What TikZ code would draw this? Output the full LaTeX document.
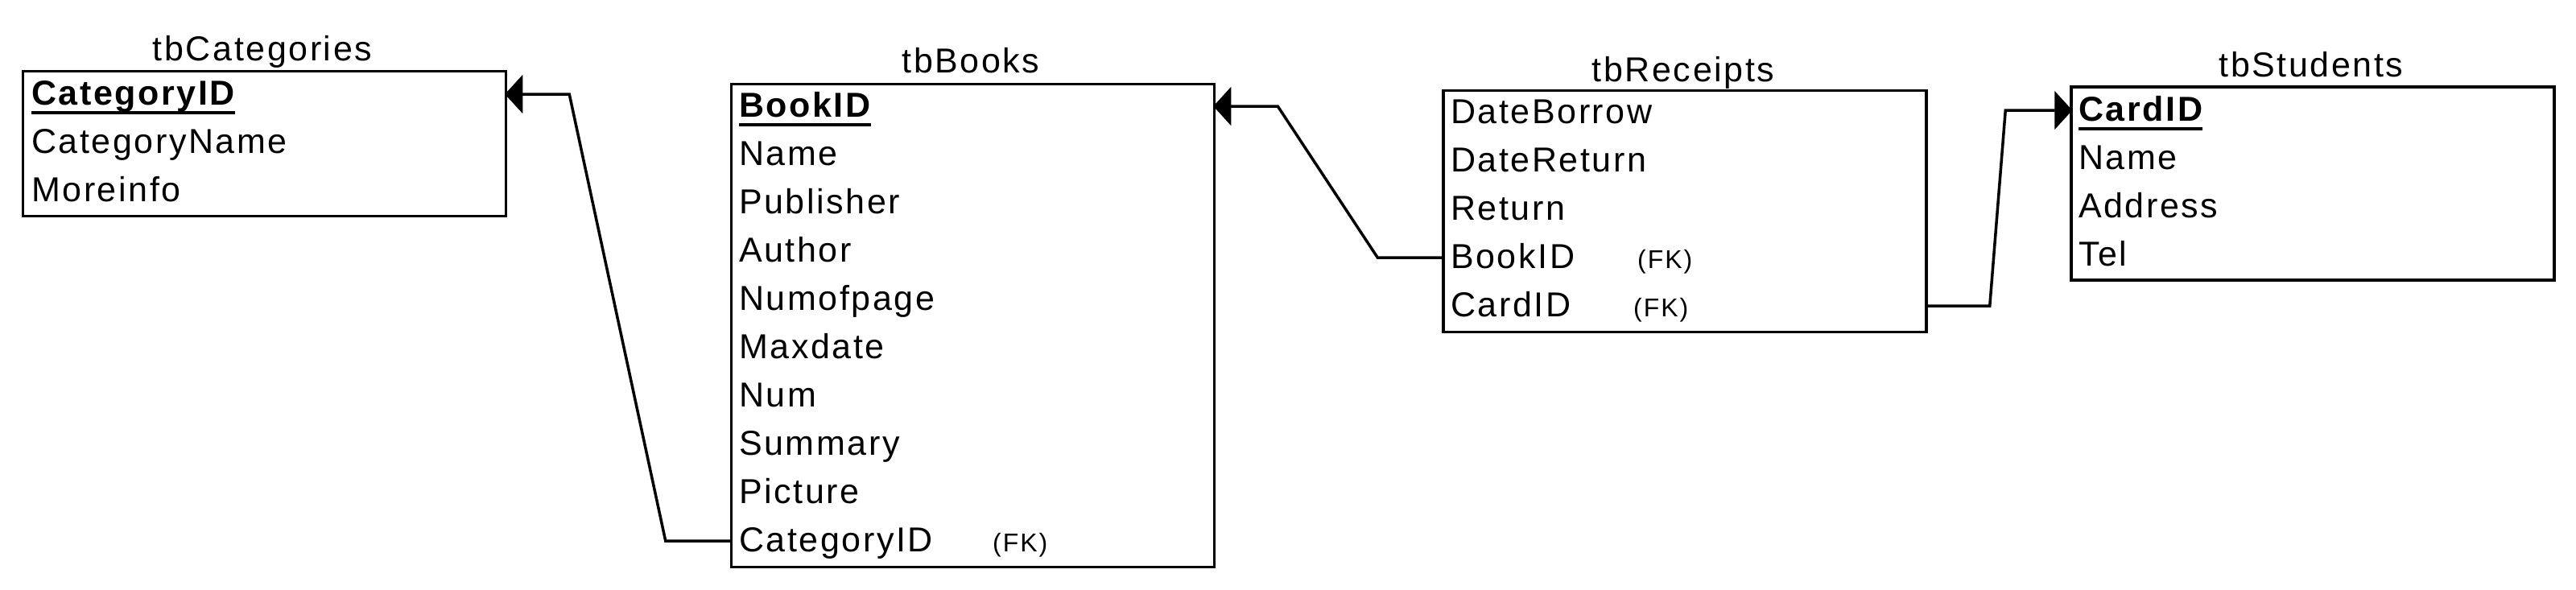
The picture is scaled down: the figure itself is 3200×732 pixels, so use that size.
\documentclass[tikz,border=0pt]{standalone}
\usepackage{fontspec}
\setmainfont{Liberation Sans}[LetterSpace=6]
\usetikzlibrary{arrows.meta,calc}
\begin{document}
\begin{tikzpicture}[x=1pt,y=-1pt,
  tbl/.style={draw, line width=3.5pt, minimum width=600pt, inner sep=0pt, anchor=center},
  fld/.style={anchor=base west, inner sep=0pt, font=\fontsize{43}{50}\selectfont},
  keyfld/.style={fld, font=\fontsize{43}{50}\selectfont\bfseries},
  ttl/.style={anchor=base, inner sep=0pt, font=\fontsize{43}{50}\selectfont},
  fk/.style={anchor=base west, inner sep=0pt, font=\fontsize{32}{38}\selectfont},
  uline/.style={line width=4pt},
  conn/.style={line width=3.5pt, line join=miter, -{Triangle[length=22pt,width=48pt,line width=1pt]}}
]
\fill[white] (0,0) rectangle (3200,732);
\useasboundingbox (0,0) rectangle (3200,732);

% ---- tbCategories ----
\node[tbl, minimum height=180pt] (cat) at (328.5,178.5) {};
\node[ttl] (catT) at (326,75) {tbCategories};
\node[keyfld] (c1) at (39,130) {CategoryID};
\node[fld] (c2) at (39,190) {CategoryName};
\node[fld] (c3) at (39,250) {Moreinfo};
\draw[uline] ([yshift=-10pt]c1.base west) -- ([yshift=-10pt]c1.base east);

% ---- tbBooks ----
\node[tbl, minimum height=600pt] (books) at (1208.5,404.5) {};
\node[ttl] (booksT) at (1206,90) {tbBooks};
\node[keyfld] (b1) at (918,145) {BookID};
\node[fld] (b2) at (918,205) {Name};
\node[fld] (b3) at (918,265) {Publisher};
\node[fld] (b4) at (918,325) {Author};
\node[fld] (b5) at (918,385) {Numofpage};
\node[fld] (b6) at (918,445) {Maxdate};
\node[fld] (b7) at (918,505) {Num};
\node[fld] (b8) at (918,565) {Summary};
\node[fld] (b9) at (918,625) {Picture};
\node[fld] (b10) at (918,685) {CategoryID};
\node[fk] (b10fk) at (1233,685) {(FK)};
\draw[uline] ([yshift=-10pt]b1.base west) -- ([yshift=-10pt]b1.base east);

% ---- tbReceipts ----
\node[tbl, minimum height=300pt] (rec) at (2093,262.5) {};
\node[ttl] (recT) at (2091,101) {tbReceipts};
\node[fld] (r1) at (1802,153) {DateBorrow};
\node[fld] (r2) at (1802,213) {DateReturn};
\node[fld] (r3) at (1802,273) {Return};
\node[fld] (r4) at (1802,333) {BookID};
\node[fk] (r4fk) at (2034,333) {(FK)};
\node[fld] (r5) at (1802,393) {CardID};
\node[fk] (r5fk) at (2029,393) {(FK)};

% ---- tbStudents ----
\node[tbl, minimum height=240pt] (stu) at (2873,228) {};
\node[ttl] (stuT) at (2871,95) {tbStudents};
\node[keyfld] (s1) at (2582,150) {CardID};
\node[fld] (s2) at (2582,210) {Name};
\node[fld] (s3) at (2582,270) {Address};
\node[fld] (s4) at (2582,330) {Tel};
\draw[uline] ([yshift=-10pt]s1.base west) -- ([yshift=-10pt]s1.base east);

% ---- connectors ----
\draw[conn] ($(books.west |- b10.base)+(0,-13)$) -- ++(-80,0)
  -- ($(cat.east |- c1.base)+(77,-13)$) -- ($(cat.east |- c1.base)+(-3,-13)$);
\draw[conn] ($(rec.west |- r4.base)+(0,-13)$) -- ++(-80,0)
  -- ($(books.east |- b1.base)+(77,-13)$) -- ($(books.east |- b1.base)+(-3,-13)$);
\draw[conn] ($(rec.east |- r5.base)+(0,-13)$) -- ++(77,0)
  -- ($(stu.west |- s1.base)+(-80,-13)$) -- ($(stu.west |- s1.base)+(3,-13)$);
\end{tikzpicture}
\end{document}
